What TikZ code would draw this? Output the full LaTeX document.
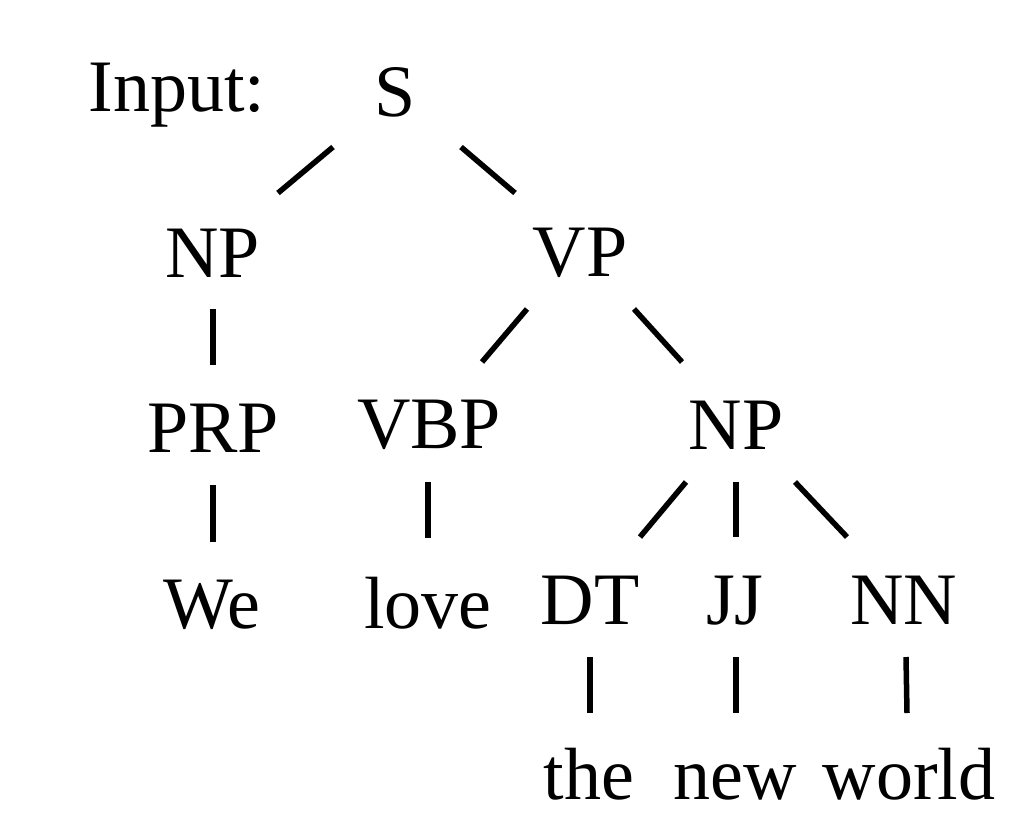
\documentclass[tikz,border=0pt]{standalone}
\usepackage{fontspec}
\setmainfont{Liberation Serif}
\usetikzlibrary{calc}
\begin{document}
\begin{tikzpicture}[x=1pt,y=-1pt,
  lbl/.style={anchor=base,inner sep=0pt,font=\fontsize{74}{80}\selectfont},
  edge/.style={line width=5.5pt}]
\useasboundingbox (0,0) rectangle (1009,831);
\node[lbl] (input) at (177,111) {Input:};
\node[lbl] (S) at (395,116) {S};
\node[lbl] (NP) at (212.5,277) {NP};
\node[lbl] (VP) at (580,276) {VP};
\node[lbl] (PRP) at (213,452) {PRP};
\node[lbl] (VBP) at (429,448) {VBP};
\node[lbl] (NPb) at (736,449) {NP};
\node[lbl] (We) at (212,628) {We};
\node[lbl] (love) at (428,628) {love};
\node[lbl] (DT) at (590,624) {DT};
\node[lbl] (JJ) at (735,624) {JJ};
\node[lbl] (NN) at (904,624) {NN};
\node[lbl] (the) at (589,799) {the};
\node[lbl] (new) at (735,799) {new};
\node[lbl] (world) at (909,799) {world};
\draw[edge] ($(S.base)+(-62,31)$) -- ($(NP.base)+(65.5,-84)$);
\draw[edge] ($(S.base)+(66,31)$) -- ($(VP.base)+(-65,-83)$);
\draw[edge] ($(NP.base)+(0.5,32)$) -- ($(PRP.base)+(0,-87)$);
\draw[edge] ($(VP.base)+(-53,33)$) -- ($(VBP.base)+(53,-86)$);
\draw[edge] ($(VP.base)+(54,33)$) -- ($(NPb.base)+(-54,-87)$);
\draw[edge] ($(PRP.base)+(0,33)$) -- ($(We.base)+(1,-86)$);
\draw[edge] ($(VBP.base)+(-1,34)$) -- ($(love.base)+(0,-90)$);
\draw[edge] ($(NPb.base)+(-50,33)$) -- ($(DT.base)+(50,-87)$);
\draw[edge] ($(NPb.base)+(0,33)$) -- ($(JJ.base)+(1,-87)$);
\draw[edge] ($(NPb.base)+(59,33)$) -- ($(NN.base)+(-57,-87)$);
\draw[edge] ($(DT.base)+(0,33)$) -- ($(the.base)+(1,-86)$);
\draw[edge] ($(JJ.base)+(1,33)$) -- ($(new.base)+(1,-86)$);
\draw[edge] ($(NN.base)+(2,33)$) -- ($(world.base)+(-2,-86)$);
\end{tikzpicture}
\end{document}
